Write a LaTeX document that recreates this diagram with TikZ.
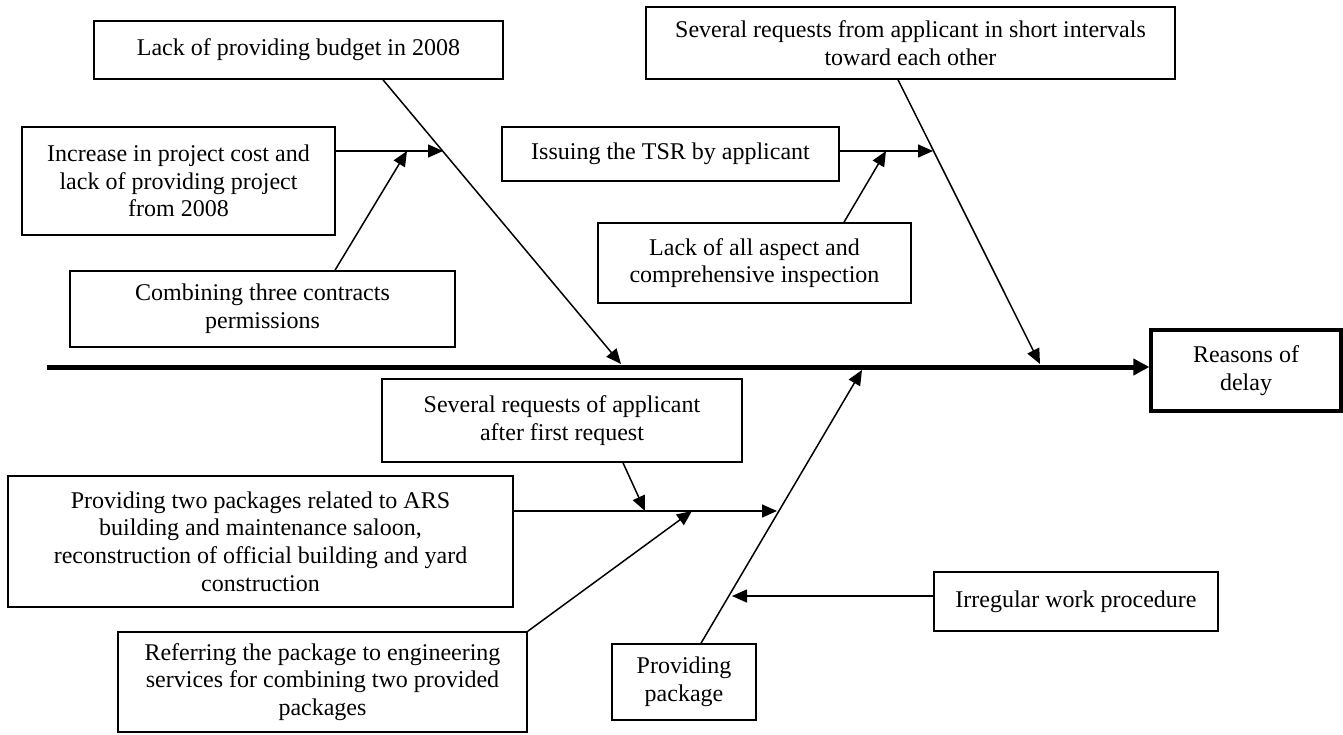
\documentclass[tikz,border=0pt]{standalone}
\usepackage{fontspec}
\setmainfont{Liberation Serif}
\usepackage{tikz}
\usetikzlibrary{arrows.meta}

\begin{document}
\begin{tikzpicture}[
  x=0.5pt, y=-0.5pt,
  cause/.style={draw, line width=0.8pt, align=center, inner sep=2pt,
    font=\fontsize{12}{13.8}\selectfont},
  effect/.style={cause, line width=1.6pt},
  bone/.style={-{Triangle[length=7.5pt, width=6.5pt]}, line width=0.75pt},
  spine/.style={-{Triangle[length=8pt, width=8pt]}, line width=2.5pt}
]
\useasboundingbox (0,0) rectangle (1343,734);

\node[cause, minimum width=204.5pt, minimum height=29pt] (budget) at (298.5,50)
  {Lack of providing budget in 2008};
\node[cause, minimum width=156.5pt, minimum height=54pt] (cost) at (178.5,181)
  {Increase in project cost and\\lack of providing project\\from 2008};
\node[cause, minimum width=192.5pt, minimum height=38pt] (contracts) at (262.5,309)
  {Combining three contracts\\permissions};
\node[cause, minimum width=264.5pt, minimum height=36pt] (intervals) at (910.5,43)
  {Several requests from applicant in short intervals\\toward each other};
\node[cause, minimum width=168.5pt, minimum height=27pt] (tsr) at (670.5,154)
  {Issuing the TSR by applicant};
\node[cause, minimum width=156.5pt, minimum height=40pt] (inspection) at (754.5,263)
  {Lack of all aspect and\\comprehensive inspection};
\node[effect, minimum width=95pt, minimum height=40.5pt] (delay) at (1246,370.5)
  {Reasons of\\delay};
\node[cause, minimum width=180pt, minimum height=41.5pt] (first) at (562,420.5)
  {Several requests of applicant\\after first request};
\node[cause, minimum width=252.5pt, minimum height=65.5pt] (packages) at (260.5,541.5)
  {Providing two packages related to ARS\\building and maintenance saloon,\\reconstruction of official building and yard\\construction};
\node[cause, minimum width=204.5pt, minimum height=50pt] (engineering) at (322.5,682)
  {Referring the package to engineering\\services for combining two provided\\packages};
\node[cause, minimum width=72pt, minimum height=38pt] (providing) at (684,682)
  {Providing\\package};
\node[cause, minimum width=142pt, minimum height=29.5pt] (irregular) at (1076,601.5)
  {Irregular work procedure};

\coordinate (tail) at (47,367);
\coordinate (b1) at (621,364);
\coordinate (b2) at (443,151);
\coordinate (b3) at (407,151);
\coordinate (s1) at (1040,364);
\coordinate (s2) at (933,151);
\coordinate (s3) at (886,151);
\coordinate (p1) at (862,370);
\coordinate (p2) at (777,511);
\coordinate (p3) at (645,511);
\coordinate (p4) at (692,511);
\coordinate (p5) at (732,596);

\draw[spine] (tail) -- (tail -| delay.west);

\draw[bone] ([xshift=42.25pt]budget.south) -- (b1);
\draw[bone] ([yshift=15pt]cost.east) -- (b2);
\draw[bone] ([xshift=36.25pt]contracts.north) -- (b3);

\draw[bone] ([xshift=-6.25pt]intervals.south) -- (s1);
\draw[bone] ([yshift=1.5pt]tsr.east) -- (s2);
\draw[bone] ([xshift=44.75pt]inspection.north) -- (s3);

\draw[bone] ([xshift=8.5pt]providing.north) -- (p1);
\draw[bone] ([yshift=15.25pt]packages.east) -- (p2);
\draw[bone] ([xshift=30.5pt]first.south) -- (p3);
\draw[bone] (engineering.north east) -- (p4);
\draw[bone] ([yshift=2.75pt]irregular.west) -- (p5);
\end{tikzpicture}
\end{document}
